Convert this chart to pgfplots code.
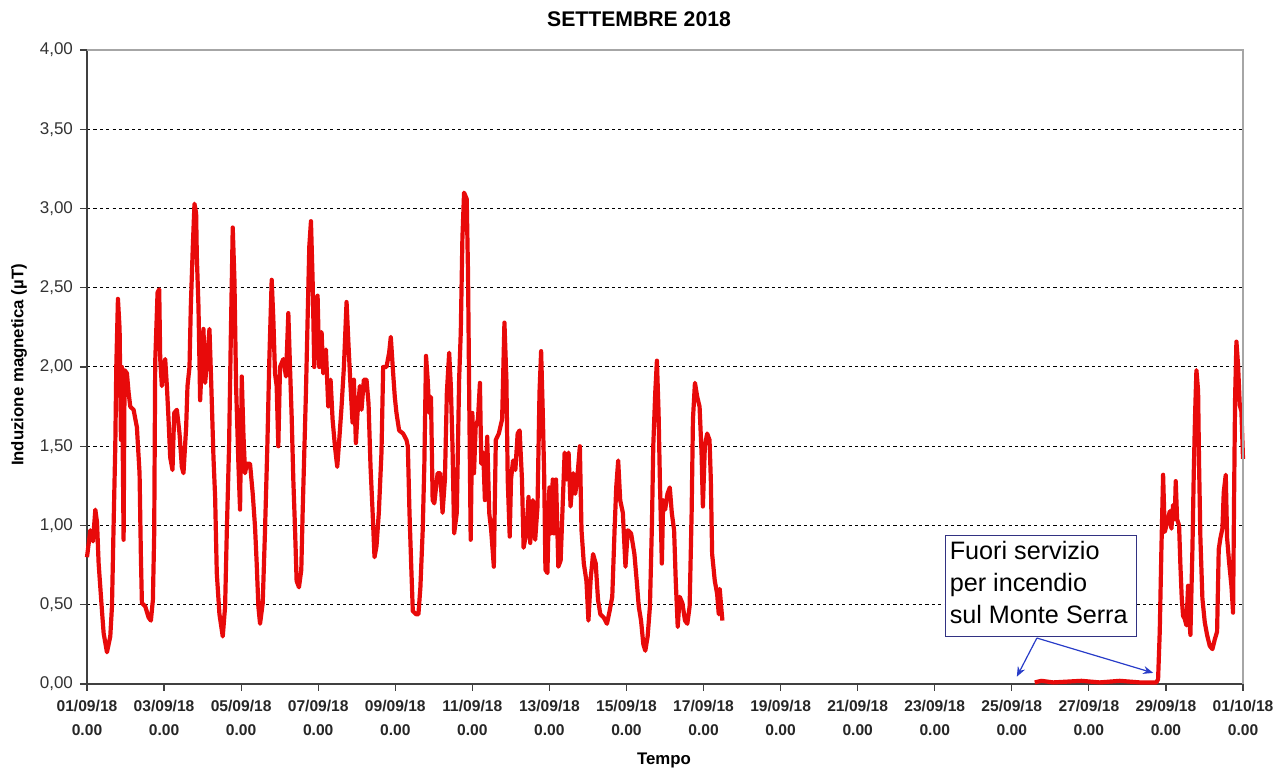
\documentclass[border=0pt]{standalone}
\usepackage{pgfplots}
\pgfplotsset{compat=1.18}
\usepackage{pgfplotstable}
\usepackage{fontspec}
\setmainfont{Liberation Sans}
\usetikzlibrary{arrows.meta}
\definecolor{curve}{RGB}{232,10,10}
\definecolor{boxc}{RGB}{50,50,130}
\definecolor{arrc}{RGB}{40,60,200}

\pgfplotstableread{
d v
0.000 0.80
0.086 0.97
0.155 0.90
0.216 1.10
0.260 1.02
0.302 0.76
0.389 0.46
0.432 0.32
0.518 0.20
0.604 0.30
0.648 0.49
0.691 1.01
0.734 1.50
0.760 2.00
0.803 2.43
0.846 2.24
0.881 1.54
0.907 2.00
0.950 0.91
0.976 1.98
1.036 1.96
1.079 1.84
1.123 1.75
1.209 1.73
1.295 1.62
1.364 1.33
1.399 0.80
1.425 0.51
1.511 0.49
1.598 0.42
1.658 0.40
1.710 0.53
1.744 0.95
1.770 2.03
1.831 2.47
1.874 2.49
1.900 2.05
1.943 1.88
1.986 2.00
2.029 2.05
2.073 1.88
2.116 1.67
2.159 1.43
2.219 1.35
2.263 1.71
2.332 1.73
2.401 1.58
2.461 1.37
2.504 1.33
2.573 1.62
2.608 1.88
2.660 2.00
2.694 2.38
2.746 2.76
2.789 3.03
2.832 2.97
2.850 2.70
2.893 2.38
2.936 1.79
2.979 2.03
3.022 2.24
3.066 1.90
3.126 2.07
3.178 2.24
3.221 1.92
3.282 1.43
3.325 1.18
3.368 0.70
3.437 0.44
3.523 0.30
3.584 0.49
3.627 0.95
3.687 1.50
3.731 2.17
3.782 2.88
3.826 2.55
3.869 1.88
3.929 1.39
3.972 1.10
4.016 1.94
4.059 1.58
4.102 1.33
4.145 1.39
4.231 1.39
4.301 1.20
4.361 0.99
4.404 0.76
4.447 0.49
4.491 0.38
4.560 0.51
4.620 0.97
4.680 1.50
4.732 2.05
4.793 2.55
4.836 2.30
4.879 1.96
4.922 1.88
4.965 1.50
5.009 2.00
5.095 2.05
5.164 1.94
5.225 2.34
5.268 2.00
5.311 1.69
5.354 1.29
5.397 0.99
5.440 0.65
5.501 0.61
5.561 0.72
5.596 1.08
5.639 1.46
5.682 1.84
5.725 2.30
5.769 2.76
5.812 2.92
5.855 2.55
5.898 2.00
5.941 2.19
5.984 2.45
6.028 2.00
6.088 2.22
6.131 1.96
6.200 2.11
6.261 1.75
6.321 1.92
6.373 1.67
6.434 1.50
6.494 1.37
6.546 1.54
6.606 1.75
6.667 2.00
6.736 2.41
6.788 2.13
6.839 1.88
6.891 1.65
6.926 1.92
6.978 1.52
7.021 1.71
7.081 1.88
7.124 1.73
7.185 1.92
7.254 1.92
7.306 1.77
7.358 1.37
7.409 1.10
7.461 0.80
7.513 0.87
7.573 1.08
7.642 1.46
7.686 2.00
7.772 2.00
7.841 2.09
7.884 2.19
7.945 1.96
7.988 1.81
8.031 1.71
8.100 1.60
8.204 1.58
8.290 1.54
8.326 1.50
8.369 1.08
8.412 0.76
8.455 0.46
8.541 0.44
8.601 0.44
8.652 0.61
8.712 0.97
8.755 1.39
8.798 2.07
8.841 1.92
8.884 1.71
8.927 1.81
8.970 1.16
9.013 1.14
9.099 1.33
9.167 1.33
9.227 1.08
9.288 1.29
9.339 1.84
9.399 2.09
9.442 1.88
9.485 1.50
9.528 0.95
9.597 1.08
9.657 1.92
9.700 2.22
9.742 2.81
9.785 3.10
9.854 3.06
9.888 2.59
9.923 1.71
9.957 0.91
10.000 1.71
10.043 1.33
10.086 1.62
10.146 1.67
10.197 1.90
10.232 1.39
10.283 1.46
10.326 1.16
10.386 1.56
10.438 1.08
10.489 0.97
10.558 0.74
10.609 1.54
10.687 1.58
10.773 1.67
10.833 2.28
10.884 1.92
10.918 1.29
10.970 0.93
11.004 1.29
11.056 1.41
11.116 1.35
11.176 1.58
11.227 1.60
11.288 1.29
11.330 0.86
11.399 0.95
11.459 1.18
11.502 0.89
11.571 1.16
11.631 0.91
11.691 1.12
11.743 1.84
11.785 2.10
11.828 1.71
11.863 1.33
11.897 0.72
11.948 0.70
12.000 1.24
12.034 0.95
12.086 1.29
12.120 0.95
12.172 1.29
12.232 0.74
12.292 0.78
12.343 1.12
12.395 1.46
12.446 1.29
12.498 1.46
12.549 1.12
12.618 1.33
12.670 1.20
12.721 1.29
12.790 1.50
12.833 0.97
12.893 0.76
12.961 0.65
13.013 0.40
13.073 0.67
13.133 0.82
13.202 0.76
13.262 0.53
13.322 0.44
13.408 0.42
13.494 0.38
13.562 0.46
13.631 0.55
13.691 0.97
13.734 1.24
13.785 1.41
13.837 1.16
13.906 1.08
13.974 0.74
14.034 0.97
14.120 0.95
14.206 0.82
14.266 0.65
14.318 0.49
14.378 0.40
14.438 0.25
14.489 0.21
14.549 0.30
14.609 0.49
14.661 1.01
14.695 1.50
14.747 1.84
14.790 2.04
14.833 1.71
14.867 1.29
14.918 0.76
14.953 1.16
15.004 1.10
15.064 1.20
15.124 1.24
15.176 1.08
15.236 0.97
15.279 0.65
15.330 0.36
15.382 0.55
15.451 0.51
15.519 0.40
15.579 0.38
15.639 0.49
15.691 1.08
15.725 1.67
15.777 1.90
15.837 1.81
15.897 1.75
15.948 1.46
15.983 1.12
16.034 1.50
16.094 1.58
16.155 1.54
16.189 1.29
16.223 0.82
16.292 0.65
16.352 0.57
16.395 0.44
16.420 0.60
16.460 0.48
16.490 0.40
}\seriesA

\pgfplotstableread{
d v
24.595 0.01
24.768 0.02
25.071 0.01
25.806 0.02
26.282 0.01
26.801 0.02
27.320 0.01
27.753 0.01
27.796 0.03
27.839 0.33
27.882 0.85
27.926 1.32
27.969 0.96
28.012 1.00
28.055 1.04
28.099 1.09
28.142 0.98
28.185 1.13
28.228 1.04
28.254 1.28
28.289 1.04
28.341 1.00
28.375 0.75
28.410 0.54
28.445 0.43
28.488 0.41
28.531 0.37
28.574 0.62
28.600 0.43
28.635 0.31
28.687 0.85
28.721 1.32
28.756 1.70
28.791 1.98
28.834 1.85
28.860 1.38
28.894 0.92
28.946 0.54
29.007 0.39
29.067 0.31
29.137 0.24
29.206 0.22
29.266 0.28
29.327 0.33
29.370 0.85
29.413 0.92
29.465 0.98
29.500 1.21
29.552 1.32
29.587 0.92
29.638 0.77
29.699 0.62
29.742 0.45
29.768 1.17
29.794 1.80
29.829 2.16
29.872 2.01
29.915 1.76
29.958 1.72
30.000 1.42
}\seriesB

\begin{document}
\begin{tikzpicture}
\useasboundingbox (0,0) rectangle (638.5pt,384.5pt);
\begin{axis}[
  at={(43.5pt,42.5pt)}, anchor=south west,
  scale only axis, width=578pt, height=317pt,
  xmin=0, xmax=30, ymin=0, ymax=4,
  axis x line*=bottom, axis y line*=left,
  axis line style={black!75, line width=0.6pt, -},
  xtick={0,2,...,30}, ytick={0,0.5,...,4},
  tick align=outside, major tick length=3.5pt,
  tick style={black!75, line width=0.6pt},
  xticklabels={{01/09/18\\0.00},{03/09/18\\0.00},{05/09/18\\0.00},{07/09/18\\0.00},{09/09/18\\0.00},{11/09/18\\0.00},{13/09/18\\0.00},{15/09/18\\0.00},{17/09/18\\0.00},{19/09/18\\0.00},{21/09/18\\0.00},{23/09/18\\0.00},{25/09/18\\0.00},{27/09/18\\0.00},{29/09/18\\0.00},{01/10/18\\0.00}},
  xticklabel style={align=center, font=\fontsize{7.8}{12}\selectfont\bfseries, text=black!85, yshift=-1pt},
  yticklabel style={font=\fontsize{8.5}{10}\selectfont, text=black!80},
  /pgf/number format/.cd, fixed, fixed zerofill, precision=2, use comma, assume math mode=true,
  /pgfplots/.cd,
  ymajorgrids, grid style={black, dash pattern=on 1.6pt off 1.6pt, line width=0.5pt},
  clip=false,
]
\addplot[curve, line width=2.1pt, line join=round] table[x=d, y=v] {\seriesA};
\addplot[curve, line width=2.1pt, line join=round] table[x=d, y=v] {\seriesB};
\draw[gray!70, line width=0.6pt] (rel axis cs:0,1) -- (rel axis cs:1,1) -- (rel axis cs:1,0);
\draw[boxc, fill=white, line width=0.5pt] (axis cs:22.29,0.30) rectangle (axis cs:27.24,0.94);
\node[anchor=north west, align=left, inner sep=0pt, font=\fontsize{12.6}{16}\selectfont] at (axis cs:22.38,0.905) {Fuori servizio\\per incendio\\sul Monte Serra};
\draw[arrc, line width=0.6pt, -{Stealth[length=5pt,width=4pt]}] (axis cs:24.65,0.29) -- (axis cs:24.13,0.046);
\draw[arrc, line width=0.6pt, -{Stealth[length=5pt,width=4pt]}] (axis cs:24.65,0.29) -- (axis cs:27.67,0.07);
\end{axis}
\node[anchor=base, font=\fontsize{10.6}{12}\selectfont\bfseries] at (319.5pt,371.2pt) {SETTEMBRE 2018};
\node[rotate=90, font=\fontsize{8.4}{10}\selectfont\bfseries] at (9.5pt,202pt) {Induzione magnetica (µT)};
\node[anchor=base, font=\fontsize{8.4}{10}\selectfont\bfseries] at (332pt,2pt) {Tempo};
\end{tikzpicture}
\end{document}
